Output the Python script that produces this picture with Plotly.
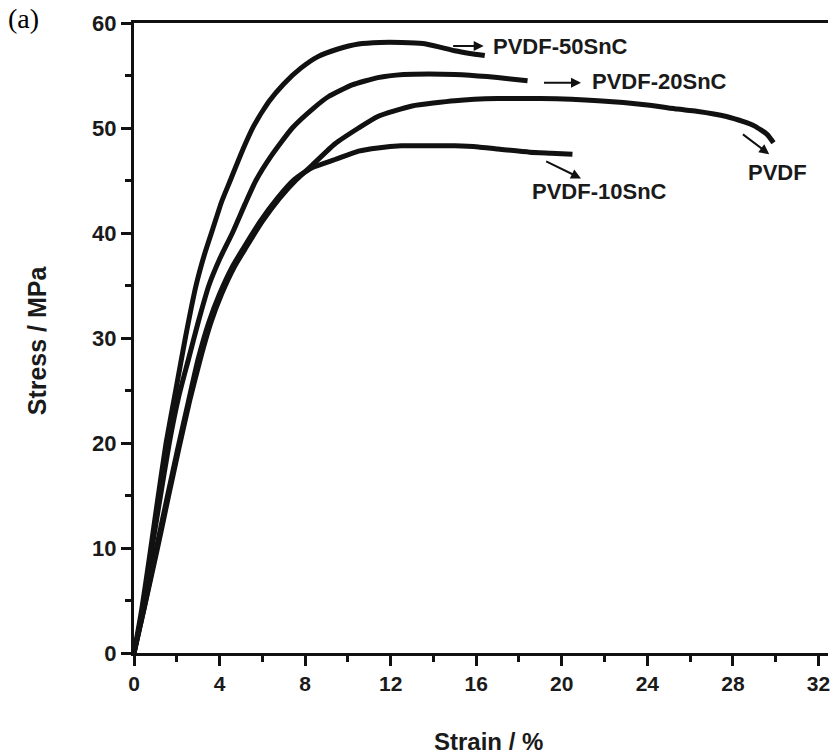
import plotly.graph_objects as go

# ---- data ----
x_50 = [0, 0.35, 0.75, 1.1, 1.5, 1.95, 2.4, 2.9, 3.3, 3.7, 4.1, 4.5, 5.1, 5.6, 6.3, 7.0, 7.8, 8.6, 9.5, 10.5, 11.5, 12.5, 13.5, 14.3, 15.0, 15.7, 16.4]
y_50 = [0, 4, 9.5, 14.5, 20, 25, 30, 35, 38, 40.5, 43, 45, 48, 50.2, 52.5, 54.2, 55.7, 56.8, 57.5, 58.0, 58.15, 58.15, 58.05, 57.7, 57.35, 57.1, 56.9]

x_20 = [0, 0.4, 0.8, 1.2, 1.65, 2.1, 2.55, 3.0, 3.5, 4.0, 4.6, 5.2, 5.7, 6.4, 7.4, 8.4, 9.1, 10.2, 11.4, 12.6, 13.8, 15.0, 16.5, 17.5, 18.4]
y_20 = [0, 4, 9.5, 14.5, 20, 24.5, 28, 31.5, 35, 37.5, 40, 42.8, 45, 47.3, 50, 51.9, 53.0, 54.1, 54.8, 55.1, 55.15, 55.1, 54.9, 54.7, 54.5]

x_pvdf = [0, 0.5, 1.1, 1.6, 2.1, 2.6, 3.1, 3.6, 4.1, 4.7, 5.2, 6.0, 6.8, 7.6, 8.3, 9.4, 10.5, 11.4, 13.0, 15.0, 17.0, 19.0, 21.7, 24.0, 25.4, 26.3, 27.7, 28.5, 29.0, 29.6, 29.9]
y_pvdf = [0, 4.5, 10, 14.8, 19.5, 24, 28, 31.5, 34.2, 36.8, 38.5, 41.1, 43.3, 45.1, 46.4, 48.5, 50.0, 51.1, 52.1, 52.6, 52.8, 52.8, 52.6, 52.2, 51.8, 51.6, 51.1, 50.6, 50.2, 49.4, 48.6]

x_10 = [0, 0.5, 1.05, 1.55, 2.05, 2.55, 3.0, 3.5, 4.0, 4.6, 5.1, 5.9, 6.7, 7.5, 8.3, 9.4, 10.5, 11.4, 12.5, 13.5, 15.0, 16.1, 17.0, 18.5, 19.5, 20.5]
y_10 = [0, 4.5, 10, 14.8, 19.5, 24, 28, 31.5, 34.2, 36.8, 38.5, 41.1, 43.3, 45.1, 46.2, 47.0, 47.8, 48.1, 48.3, 48.3, 48.3, 48.2, 48.0, 47.7, 47.6, 47.5]

labels = ["PVDF-50SnC", "PVDF-20SnC", "PVDF", "PVDF-10SnC"]
label_x = [16.7, 21.3, 28.6, 18.5]
label_y = [57.8, 54.4, 45.8, 44.0]
arrow_tail_x = [14.85, 19.1, 28.4, 19.2]
arrow_tail_y = [57.8, 54.3, 49.5, 46.9]
arrow_head_x = [16.35, 20.9, 29.7, 20.9]
arrow_head_y = [57.8, 54.3, 47.5, 45.2]

x_ticks = [0, 4, 8, 12, 16, 20, 24, 28, 32]
y_ticks = [0, 10, 20, 30, 40, 50, 60]

INK = "#111111"
W, H = 830, 756
ML, MT, MB, MR = 134, 23, 103, 0
PW = W - ML - MR
PH = H - MT - MB

fig = go.Figure()
for xs, ys in [(x_pvdf, y_pvdf), (x_10, y_10), (x_20, y_20), (x_50, y_50)]:
    fig.add_trace(go.Scatter(x=xs, y=ys, mode="lines",
                             line=dict(color=INK, width=5, shape="spline", smoothing=0.5),
                             showlegend=False, hoverinfo="skip"))

annotations = []
for i, lab in enumerate(labels):
    annotations.append(dict(x=arrow_head_x[i], y=arrow_head_y[i], ax=arrow_tail_x[i], ay=arrow_tail_y[i],
                            xref="x", yref="y", axref="x", ayref="y", text="", showarrow=True,
                            arrowhead=2, arrowsize=1.0, arrowwidth=2, arrowcolor=INK))
    annotations.append(dict(x=label_x[i], y=label_y[i], xref="x", yref="y", text=lab, showarrow=False,
                            xanchor="left", yanchor="middle",
                            font=dict(family="Liberation Sans, Arial", size=22, color="#1a1a1a", weight="bold")))

# axis titles and panel label
annotations.append(dict(x=(490 - ML) / PW, y=(H - MB - 741) / PH, xref="paper", yref="paper",
                        text="<b>Strain / %</b>", showarrow=False, xanchor="center", yanchor="middle",
                        font=dict(family="Liberation Sans, Arial", size=24, color="#1a1a1a")))
annotations.append(dict(x=(37 - ML) / PW, y=(H - MB - 340) / PH, xref="paper", yref="paper",
                        text="<b>Stress / MPa</b>", showarrow=False, textangle=-90,
                        xanchor="center", yanchor="middle",
                        font=dict(family="Liberation Sans, Arial", size=25, color="#1a1a1a")))
annotations.append(dict(x=(6 - ML) / PW, y=(H - MB - 1) / PH, xref="paper", yref="paper",
                        text="(a)", showarrow=False, xanchor="left", yanchor="top",
                        font=dict(family="Liberation Serif, Times New Roman", size=28, color="#000000")))

fig.update_layout(
    width=W, height=H,
    margin=dict(l=ML, r=MR, t=MT, b=MB),
    paper_bgcolor="white", plot_bgcolor="white",
    annotations=annotations,
    xaxis=dict(range=[0, PW / 21.45], tickvals=x_ticks, ticktext=[str(v) for v in x_ticks],
               showgrid=False, zeroline=False, showline=True, linecolor=INK, linewidth=3,
               mirror=True, ticks="outside", ticklen=10, tickwidth=3, tickcolor=INK,
               ticklabeloverflow="allow",
               minor=dict(dtick=2, ticks="outside", ticklen=6, tickwidth=3, tickcolor=INK, showgrid=False),
               tickfont=dict(family="Liberation Sans Narrow, Liberation Sans, Arial", size=21, color="#1a1a1a", weight="bold")),
    yaxis=dict(range=[0, 60], tickvals=y_ticks, ticktext=[str(v) for v in y_ticks],
               showgrid=False, zeroline=False, showline=True, linecolor=INK, linewidth=3,
               mirror=False, ticks="outside", ticklen=10, tickwidth=3, tickcolor=INK,
               minor=dict(dtick=5, ticks="outside", ticklen=6, tickwidth=3, tickcolor=INK, showgrid=False),
               tickfont=dict(family="Liberation Sans, Arial", size=22, color="#1a1a1a", weight="bold")),
)

fig.write_html("out.html")
